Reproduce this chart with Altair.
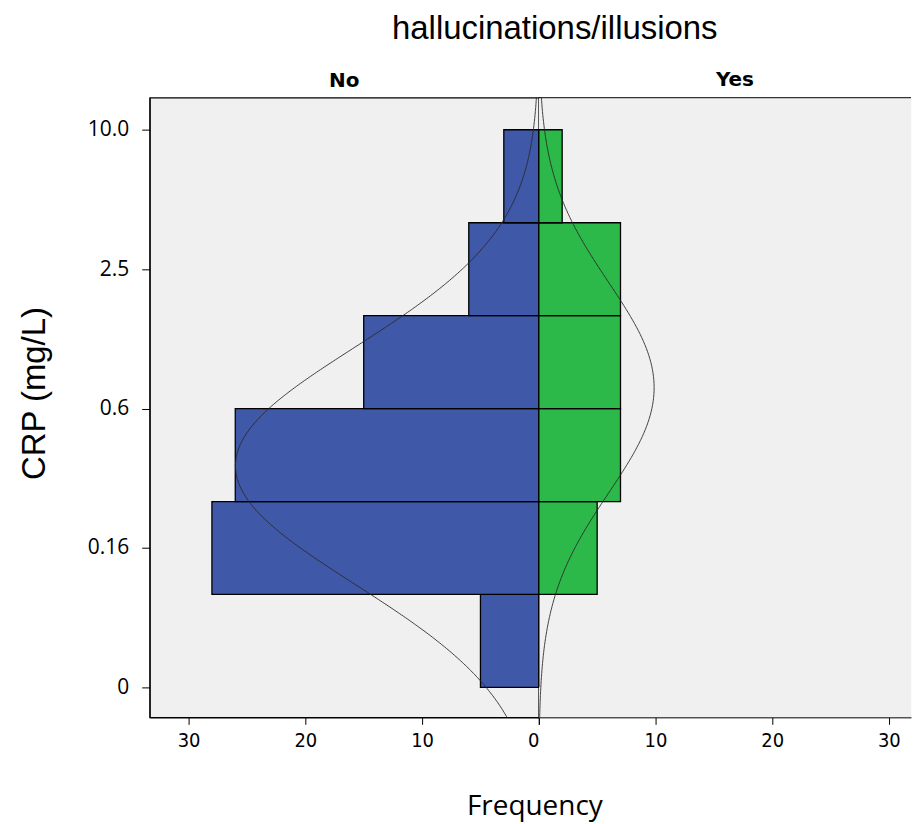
import json
import altair as alt
import pandas as pd

# ---- data ----
crp_tick_pos = [0, 1, 2, 3, 4]
crp_tick_labels = ["0", "0.16", "0.6", "2.5", "10.0"]
bin_lo = [0.0, 0.667, 1.333, 2.0, 2.667, 3.333]
bin_hi = [0.667, 1.333, 2.0, 2.667, 3.333, 4.0]
no_counts = [5, 28, 26, 15, 6, 3]
yes_counts = [0, 5, 7, 7, 7, 2]
freq_ticks = [0, 10, 20, 30]
# fitted normal curves (mean / sd in CRP axis units, n = group size)
no_mean, no_sd, no_n = 1.59, 0.85, 83
yes_mean, yes_sd, yes_n = 2.15, 0.754, 28
bin_width = 0.667

# ---- layout ----
W_L, W_R, H = 390, 373, 621
Y_DOM = [-0.215, 4.23]
X_L = [0, 33.33]
X_R = [0, 31.9]
BLUE = "#3f58a8"
GREEN = "#2db84a"

bars_no = pd.DataFrame({"lo": bin_lo, "hi": bin_hi, "count": no_counts})
bars_yes = pd.DataFrame({"lo": bin_lo, "hi": bin_hi, "count": yes_counts})

label_expr = json.dumps(crp_tick_labels) + "[datum.value]"

y_axis = alt.Axis(values=crp_tick_pos, labelExpr=label_expr, title="CRP (mg/L)",
                  labelFont="Open Sans", labelFontSize=21, labelColor="black",
                  tickSize=8, tickColor="black", labelPadding=13,
                  domainColor="black", grid=False,
                  titleFont="Liberation Sans", titleFontSize=33, titleFontWeight="normal",
                  titleColor="black", titlePadding=36, titleY=296)

def x_axis(hide_zero):
    kw = {}
    if hide_zero:
        kw["labelExpr"] = "datum.value == 0 ? '' : datum.label"
    return alt.Axis(values=freq_ticks, title=None, grid=False,
                    labelFont="Liberation Sans Narrow, DejaVu Sans Condensed, sans-serif",
                    labelFontSize=20, labelColor="black", tickSize=7, tickColor="black",
                    labelPadding=6, domainColor="black", **kw)

def panel(df, mean, sd, n, color, xdom, reverse, width, yaxis, header, hdx):
    xs = alt.Scale(domain=xdom, reverse=reverse, nice=False, zero=False)
    ys = alt.Scale(domain=Y_DOM, nice=False, zero=False)
    bars = alt.Chart(df).mark_rect(color=color, stroke="black", strokeWidth=1.3).encode(
        x=alt.X("count:Q", scale=xs, axis=x_axis(not reverse)),
        x2=alt.X2(datum=0),
        y=alt.Y("lo:Q", scale=ys, axis=yaxis),
        y2="hi:Q",
    )
    expr = (f"{n}*{bin_width}/({sd}*sqrt(2*PI))"
            f"*exp(-0.5*pow((datum.y-{mean})/{sd},2))")
    curve = alt.Chart(alt.sequence(-0.4, 4.41, 0.01, as_="y")).transform_calculate(
        f=expr
    ).mark_line(clip=True, color="#2a2a2a", strokeWidth=0.9).encode(
        x=alt.X("f:Q", scale=xs, axis=x_axis(not reverse)),
        y=alt.Y("y:Q", scale=ys, axis=yaxis),
        order="y:Q",
    )
    layers = [bars, curve]
    props = dict(width=width, height=H,
                 title=alt.TitleParams(header, font="DejaVu Sans", fontSize=20,
                                       fontWeight="bold", color="black", anchor="middle",
                                       offset=7, dx=hdx))
    if not reverse:
        top = alt.Chart(pd.DataFrame({"a": [0]})).mark_rule(color="black", strokeWidth=1).encode(
            x=alt.value(0), x2=alt.value(width), y=alt.value(0))
        layers.append(top)
        props["view"] = alt.ViewBackground(fill="#f0f0f0", stroke="transparent")
    return alt.layer(*layers).properties(**props)

left = panel(bars_no, no_mean, no_sd, no_n, BLUE, X_L, True, W_L, y_axis, "No", 0)
right = panel(bars_yes, yes_mean, yes_sd, yes_n, GREEN, X_R, False, W_R, None, "Yes", 10)

inner = alt.hconcat(left, right, spacing=0, bounds="flush").resolve_scale(
    x="independent", y="independent"
).properties(
    title=alt.TitleParams("Frequency", orient="bottom", anchor="middle", font="Open Sans",
                          fontSize=28, fontWeight="normal", color="black", offset=42, dx=70)
)

chart = alt.vconcat(inner, spacing=0).properties(
    title=alt.TitleParams("hallucinations/illusions", anchor="middle", font="Liberation Sans",
                          fontSize=33, fontWeight="normal", color="black", offset=24, dx=90),
    padding={"left": 9, "top": 3, "right": 0, "bottom": 6},
).configure_view(fill="#f0f0f0", stroke="black", strokeWidth=1.3)

chart.save("out.html", embed_options={"renderer": "svg", "actions": False})
